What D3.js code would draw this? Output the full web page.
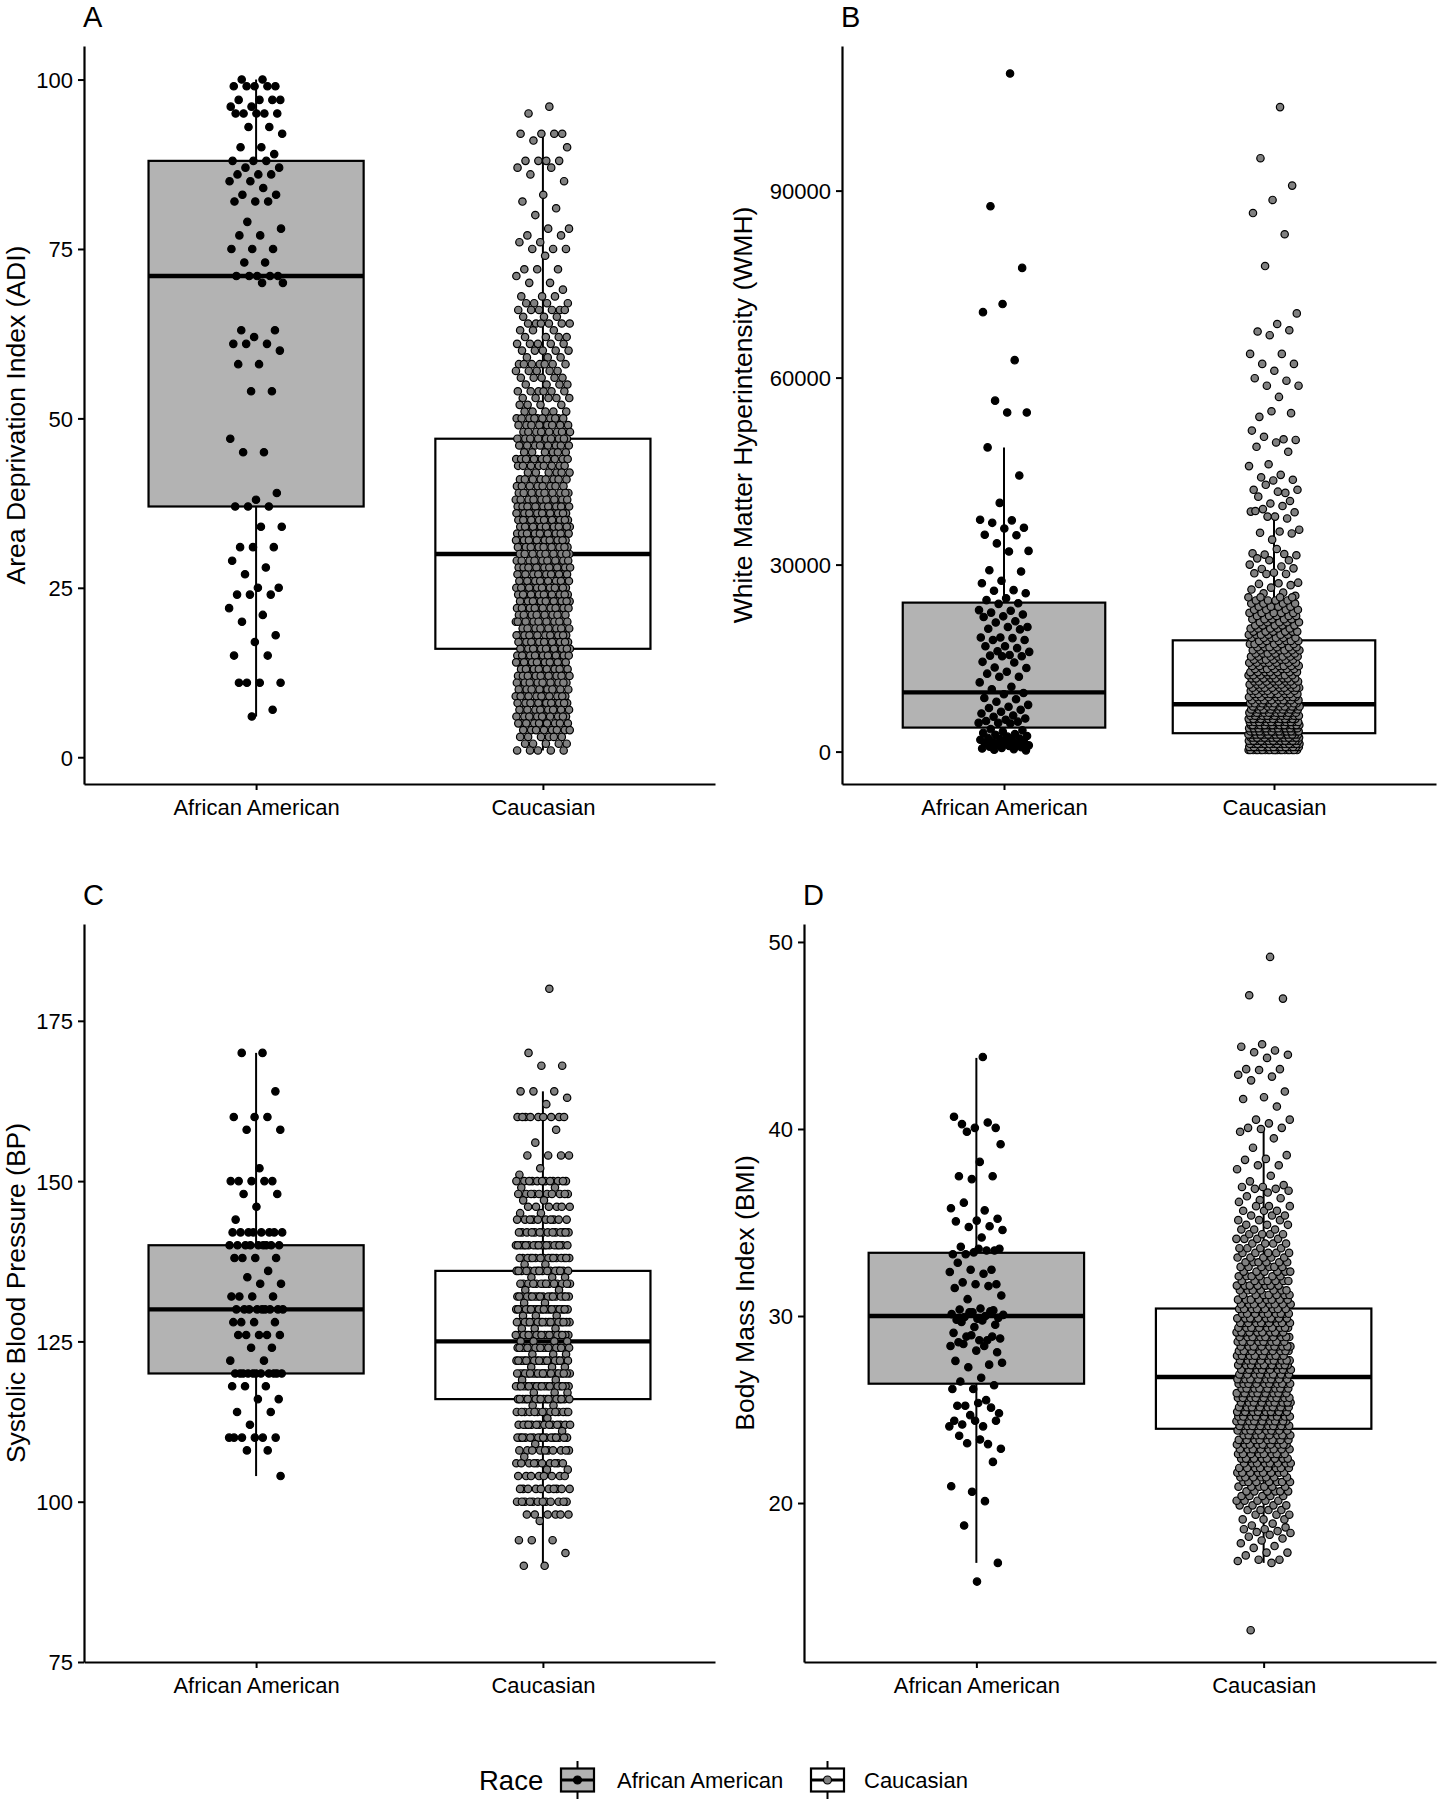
<!DOCTYPE html>
<html><head><meta charset="utf-8">
<script src="https://cdn.jsdelivr.net/npm/d3@7"></script>
<style>
body{margin:0;background:#fff;}
svg text{font-family:"Liberation Sans",Arial,Helvetica,sans-serif;fill:#000;}
</style></head><body>
<svg id="chart" width="1438" height="1800"></svg>
<script>
const categories = ["African American", "Caucasian"];
const legendTitle = "Race";

// ---------- Panel A: Area Deprivation Index ----------
const adiTicks = [0, 25, 50, 75, 100];
const adiAA = [100,100,99,99,99,99,99,97,97,97,97,96,96,95,95,95,95,95,93,93,92,90,90,89,88,88,88,87,87,86,86,86,85,85,84,83,83,82,82,82,79,78,77,77,75,75,75,73,73,71,71,71,71,71,70,70,63,63,62,61,61,61,60,58,58,54,54,47,45,45,39,38,37,37,37,34,34,31,31,31,29,28,27,25,25,24,24,24,22,21,20,18,17,15,15,11,11,11,11,7,6];
// [value, count] read from the dense cloud
const adiCauc = [[96,1],[95,1],[92,4],[91,1],[90,1],[88,4],[87,2],[86,1],[85,1],[83,1],[82,1],[81,1],[80,1],[78,2],[77,2],[76,2],[75,3],[74,1],[72,3],[71,1],[70,2],[69,1],[68,3],[67,4],[66,6],[65,3],[64,6],[63,3],[62,4],[61,5],[60,5],[59,3],[58,7],[57,5],[56,5],[55,4],[54,6],[53,5],[52,4],[51,5],[50,10],[49,8],[48,10],[47,12],[46,10],[45,6],[44,12],[43,8],[42,6],[41,8],[40,8],[39,12],[38,12],[37,15],[36,14],[35,14],[34,14],[33,14],[32,12],[31,14],[30,14],[29,12],[28,14],[27,12],[26,12],[25,14],[24,12],[23,12],[22,12],[21,12],[20,14],[19,12],[18,12],[17,14],[16,13],[15,13],[14,13],[13,11],[12,13],[11,13],[10,11],[9,11],[8,11],[7,11],[6,11],[5,9],[4,8],[3,6],[2,5],[1,5]];
// [lower whisker, Q1, median, Q3, upper whisker]
const adiBoxAA = [6, 37, 71, 88, 100];
const adiBoxCauc = [1, 16, 30, 47, 92];

// ---------- Panel B: White Matter Hyperintensity ----------
const wmhTicks = [0, 30000, 60000, 90000];
const wmhAA = [108800,87500,77600,71800,70500,62800,56300,54400,54400,48800,44300,39900,37200,37100,36700,35900,35800,34800,34700,33400,32200,32100,29100,28900,27400,27000,25900,25800,25400,24600,24300,23800,23700,22700,22600,22300,22000,21700,21600,20900,20700,20000,20000,19700,19600,18300,18300,18200,17900,17900,16900,16900,16600,16100,16000,15500,15400,15300,15300,14400,14300,13500,13400,12800,12500,12000,12000,11100,10400,10000,9400,9200,8600,8400,8000,7500,7200,7000,6700,6400,6100,5800,5600,5300,5100,4900,4800,4600,4600,4500,3600,3400,3200,3000,2800,2700,2500,2400,2200,2100,2000,1900,1800,1600,1500,1400,1300,1200,1100,1000,900,800,700,600,500,400,300,200];
const wmhCaucTail = [103400,95200,90800,88500,86400,83000,77900,70300,68600,67400,67600,66800,63800,63800,62200,62200,61100,59900,59500,58700,58700,56900,53700,54300,54600,51500,50100,50500,50000,49600,48900,48100,46100,45800,44400,44000,43600,43500,42000,41500,42800,42000,41700,40900,40200,39800,38500,39400,38900,38400,37700,38600,37400,37700,35600,35300,35100,35000,34000,31800,31700,31600,31500,32500,31000,30700,30700,30000,29700,29300,29400,28700,28600,28500,28500,27100,27000,26900,26700,26300,26000,25500,25400,25000];
const wmhCaucDense = [[250,22],[750,23],[1250,28],[1750,27],[2250,26],[2750,26],[3250,22],[3750,20],[4250,18],[4750,17],[5250,15],[5750,15],[6250,14],[6750,14],[7250,12],[7750,12],[8250,10],[8750,9],[9250,9],[9750,8],[10250,9],[10750,8],[11250,8],[11750,8],[12250,8],[12750,7],[13250,7],[13750,7],[14250,7],[14750,7],[15250,7],[15750,6],[16250,7],[16750,6],[17250,6],[17750,6],[18250,6],[18750,6],[19250,6],[19750,5],[20250,5],[20750,5],[21250,5],[21750,5],[22250,5],[22750,4],[23250,4],[23750,4],[24250,4],[24750,4]];
const wmhBoxAA = [200, 3850, 9500, 23900, 48800];
const wmhBoxCauc = [100, 2950, 7600, 17850, 38300];

// ---------- Panel C: Systolic Blood Pressure ----------
const bpTicks = [75, 100, 125, 150, 175];
const bpAA = [170,170,164,160,160,160,158,158,152,150,150,150,150,150,148,148,146,144,142,142,142,142,142,142,142,142,140,140,140,140,140,140,140,140,140,138,138,138,138,136,135,134,134,132,132,132,132,130,130,130,130,130,130,130,130,130,128,128,128,128,126,126,126,126,126,124,124,122,122,120,120,120,120,120,120,120,120,120,120,120,118,118,118,116,116,114,114,112,110,110,110,110,110,110,108,108,104];
const bpCauc = [[180,1],[170,1],[168,2],[164,3],[163,1],[162,1],[160,9],[158,1],[156,1],[154,4],[152,1],[151,1],[150,12],[149,2],[148,10],[147,2],[146,6],[145,2],[144,10],[142,14],[140,18],[138,16],[137,2],[136,16],[135,3],[134,14],[133,2],[132,18],[131,2],[130,20],[129,3],[128,18],[127,3],[126,18],[125,4],[124,18],[123,3],[122,18],[121,3],[120,22],[119,2],[118,20],[117,3],[116,18],[115,2],[114,14],[113,1],[112,14],[111,1],[110,16],[109,1],[108,10],[107,1],[106,10],[105,2],[104,8],[102,10],[100,12],[98,6],[97,1],[94,3],[92,1],[90,2]];
const bpBoxAA = [104, 120, 130, 140, 170];
const bpBoxCauc = [90, 116, 125, 136, 164];

// ---------- Panel D: Body Mass Index ----------
const bmiTicks = [20, 30, 40, 50];
const bmiAA = [43.85,40.26,40.06,40.06,40.65,40.35,39.85,39.18,38.24,37.47,37.47,37.32,35.76,35.65,36.06,35.2,35.1,35.06,34.8,34.76,34.6,34.2,33.7,33.5,33.4,33.3,33.5,33.3,33.6,33.6,32.85,32.47,32.47,32.35,32.26,31.8,31.7,31.7,31.5,31.6,30.9,31.1,30.4,30.35,30.3,30.2,30.1,30.0,29.95,29.9,29.85,29.8,30.25,30.2,30.06,29.76,29.68,29.53,29.41,29.1,28.7,28.9,28.8,28.7,28.6,28.9,28.97,28.4,28.4,28.5,28.06,28.15,27.6,27.4,27.26,27.5,26.7,26.5,26.3,26.1,26.1,25.5,25.2,24.8,25.35,25.2,25.1,24.7,24.1,24.1,24.2,24.4,24.4,24.4,23.15,23.2,22.9,23.4,23.6,22.2,20.6,20.9,20.1,18.8,16.8,15.8];
const bmiCaucTail = [49.2,47.15,46.97,44.53,44.4,44.2,44.1,43.97,43.8,43.2,43.2,43.15,42.9,42.8,42.6,42.0,41.7,41.6,41.2,40.5,40.5,40.3,40.06,40.06,40.0,39.85,39.5,39.0,38.6,38.4,38.35,38.06,38.06,37.85,37.5,37.2,37.0,36.9,36.9,36.8,36.8,36.7,36.6,36.4,36.3,36.2,36.1,18.9,18.8,18.7,18.6,18.6,18.5,18.45,18.4,18.3,18.2,18.1,18.0,17.85,17.7,17.6,17.35,17.35,17.2,16.97,16.97,16.9,16.8,13.2];
const bmiCaucDense = [[19.125,3],[19.375,3],[19.625,4],[19.875,4],[20.125,5],[20.375,5],[20.625,6],[20.875,6],[21.125,7],[21.375,7],[21.625,8],[21.875,8],[22.125,9],[22.375,9],[22.625,9],[22.875,9],[23.125,10],[23.375,10],[23.625,11],[23.875,11],[24.125,13],[24.375,13],[24.625,14],[24.875,14],[25.125,14],[25.375,14],[25.625,13],[25.875,13],[26.125,12],[26.375,12],[26.625,12],[26.875,12],[27.125,12],[27.375,12],[27.625,12],[27.875,12],[28.125,11],[28.375,11],[28.625,11],[28.875,11],[29.125,10],[29.375,10],[29.625,10],[29.875,10],[30.125,9],[30.375,9],[30.625,8],[30.875,8],[31.125,7],[31.375,7],[31.625,7],[31.875,7],[32.125,6],[32.375,6],[32.625,6],[32.875,6],[33.125,5],[33.375,5],[33.625,4],[33.875,4],[34.125,4],[34.375,4],[34.625,3],[34.875,3],[35.125,3],[35.375,3],[35.625,3],[35.875,3]];
const bmiBoxAA = [16.8, 26.38, 30.0, 33.38, 43.8];
const bmiBoxCauc = [16.8, 23.97, 26.74, 30.4, 40.06];

// ---------- helpers ----------
function expandPairs(pairs){const out=[];pairs.forEach(([v,c])=>{for(let k=0;k<c;k++)out.push(v);});return out;}

const panels = [
  {tag:"A", title:"Area Deprivation Index (ADI)", x0:84, x1:715, y0:46, y1:784, domain:[-3.95,104.95], ticks:adiTicks,
   groups:[adiAA, expandPairs(adiCauc)], boxes:[adiBoxAA, adiBoxCauc], titleX:25},
  {tag:"B", title:"White Matter Hyperintensity (WMH)", x0:842, x1:1436, y0:46, y1:784, domain:[-5200,113200], ticks:wmhTicks,
   groups:[wmhAA, wmhCaucTail.concat(expandPairs(wmhCaucDense))], boxes:[wmhBoxAA, wmhBoxCauc], titleX:752},
  {tag:"C", title:"Systolic Blood Pressure (BP)", x0:84, x1:715, y0:924, y1:1662, domain:[75,190.1], ticks:bpTicks,
   groups:[bpAA, expandPairs(bpCauc)], boxes:[bpBoxAA, bpBoxCauc], titleX:25},
  {tag:"D", title:"Body Mass Index (BMI)", x0:804, x1:1436, y0:924, y1:1662, domain:[11.5,50.96], ticks:bmiTicks,
   groups:[bmiAA, bmiCaucTail.concat(expandPairs(bmiCaucDense))], boxes:[bmiBoxAA, bmiBoxCauc], titleX:754}
];

const boxFill = ["#B3B3B3", "#FFFFFF"];
const ptFill = ["#000000", "#808080"];
const GOLD = 0.6180339887;
const svg = d3.select("#chart");

panels.forEach(p => {
  const g = svg.append("g");
  const x = d3.scalePoint().domain(categories).range([p.x0, p.x1]).padding(0.6);
  const y = d3.scaleLinear().domain(p.domain).range([p.y1, p.y0]);
  const step = x.step();
  const bw = 0.75 * step;

  // boxes
  categories.forEach((c, i) => {
    const [lo, q1, med, q3, hi] = p.boxes[i];
    const cx = x(c);
    const bg = g.append("g");
    bg.append("line").attr("x1", cx).attr("x2", cx).attr("y1", y(q3)).attr("y2", y(hi))
      .attr("stroke", "#000").attr("stroke-width", 2);
    bg.append("line").attr("x1", cx).attr("x2", cx).attr("y1", y(q1)).attr("y2", y(lo))
      .attr("stroke", "#000").attr("stroke-width", 2);
    bg.append("rect").attr("x", cx - bw/2).attr("width", bw).attr("y", y(q3)).attr("height", y(q1) - y(q3))
      .attr("fill", boxFill[i]).attr("stroke", "#000").attr("stroke-width", 2.2);
    bg.append("line").attr("x1", cx - bw/2).attr("x2", cx + bw/2).attr("y1", y(med)).attr("y2", y(med))
      .attr("stroke", "#000").attr("stroke-width", 4.4);
  });

  // jittered points
  categories.forEach((c, i) => {
    const vals = p.groups[i];
    const jw = 0.095 * step;
    g.append("g").selectAll("circle").data(vals).join("circle")
      .attr("cx", (d, k) => x(c) + ((((k + 1) * GOLD) % 1) - 0.5) * 2 * jw)
      .attr("cy", d => y(d))
      .attr("r", 3.7)
      .attr("fill", ptFill[i]).attr("stroke", "#000").attr("stroke-width", 1.2);
  });

  // axes
  const ya = g.append("g").attr("transform", `translate(${p.x0},0)`)
    .call(d3.axisLeft(y).tickValues(p.ticks).tickSize(6).tickSizeOuter(0).tickPadding(5).tickFormat(d3.format("d")));
  const xa = g.append("g").attr("transform", `translate(0,${p.y1})`)
    .call(d3.axisBottom(x).tickSize(6).tickSizeOuter(0).tickPadding(8));
  [ya, xa].forEach(a => {
    a.select(".domain").attr("stroke", "#000").attr("stroke-width", 2.2);
    a.selectAll(".tick line").attr("stroke", "#000").attr("stroke-width", 2);
    a.selectAll(".tick text").attr("fill", "#000").attr("font-size", 22)
      .attr("font-family", '"Liberation Sans", Arial, sans-serif');
  });
  ya.selectAll(".tick text").attr("dy", "0.36em");
  xa.selectAll(".tick text").attr("dy", "0.76em");

  // y axis title
  g.append("text").attr("transform", `translate(${p.titleX},${(p.y0 + p.y1)/2}) rotate(-90)`)
    .attr("text-anchor", "middle").attr("font-size", 26.5).text(p.title);
  // panel tag
  g.append("text").attr("x", p.x0 - 1).attr("y", p.y0 - 19).attr("font-size", 29).text(p.tag);
});

// ---------- legend ----------
const lg = svg.append("g");
lg.append("text").attr("x", 479).attr("y", 1790).attr("font-size", 27.5).text(legendTitle);
const keyX = [561, 811];
const labX = [617, 864];
categories.forEach((c, i) => {
  const kx = keyX[i], kw = 33, cx = kx + kw/2;
  lg.append("line").attr("x1", cx).attr("x2", cx).attr("y1", 1761).attr("y2", 1799).attr("stroke", "#000").attr("stroke-width", 2);
  lg.append("rect").attr("x", kx).attr("y", 1768.5).attr("width", kw).attr("height", 23)
    .attr("fill", boxFill[i]).attr("stroke", "#000").attr("stroke-width", 2.2);
  lg.append("line").attr("x1", kx).attr("x2", kx + kw).attr("y1", 1780).attr("y2", 1780).attr("stroke", "#000").attr("stroke-width", 3);
  lg.append("circle").attr("cx", cx).attr("cy", 1780).attr("r", 4).attr("fill", ptFill[i]).attr("stroke", "#000").attr("stroke-width", 1.2);
  lg.append("text").attr("x", labX[i]).attr("y", 1788).attr("font-size", 22).text(c);
});
</script>
</body></html>
